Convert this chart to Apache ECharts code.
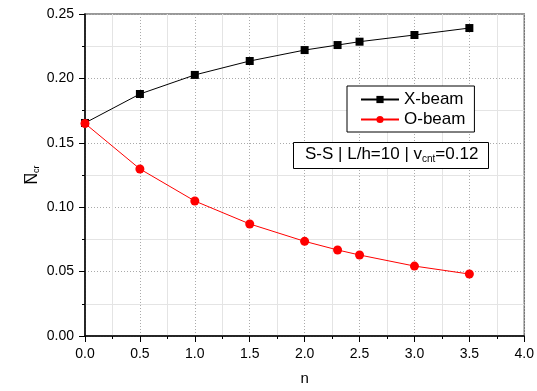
<!DOCTYPE html>
<html>
<head>
<meta charset="utf-8">
<script src="https://cdn.jsdelivr.net/npm/echarts@6/dist/echarts.min.js"></script>
<style>
  html, body { margin: 0; padding: 0; background: #fff; }
  #chart { width: 537px; height: 391px; }
</style>
</head>
<body>
<div id="chart"></div>
<script>
const nValues = [0, 0.5, 1.0, 1.5, 2.0, 2.3, 2.5, 3.0, 3.5];
const xBeam = [0.1654, 0.1879, 0.2027, 0.2135, 0.2220, 0.2259, 0.2285, 0.2337, 0.2391];
const oBeam = [0.1650, 0.1297, 0.1048, 0.0870, 0.0735, 0.0668, 0.0629, 0.0543, 0.0481];

const font = "Liberation Sans, Arial, sans-serif";
let myChart = echarts.init(document.getElementById("chart"));

const pairs = (ys) => nValues.map((x, i) => [x, ys[i]]);

myChart.setOption({
  animation: false,
  textStyle: { fontFamily: font },
  grid: {
    left: 85,
    right: 12,
    top: 14,
    bottom: 55,
    show: true,
    borderColor: "#777",
    borderWidth: 1.5,
  },
  legend: {
    orient: "vertical",
    left: 347,
    top: 86,
    itemWidth: 38,
    itemHeight: 9,
    itemGap: 3,
    padding: [5, 9, 4, 13],
    borderColor: "#000",
    borderWidth: 1,
    backgroundColor: "#fff",
    textStyle: { fontSize: 17, color: "#000", fontFamily: font },
    data: ["X-beam", "O-beam"],
  },
  xAxis: {
    type: "value",
    min: 0,
    max: 4,
    interval: 0.5,
    name: "n",
    nameLocation: "middle",
    nameGap: 35,
    nameTextStyle: { fontSize: 15, color: "#000" },
    axisLine: { onZero: false, lineStyle: { color: "#000", width: 1.5 } },
    axisTick: { inside: false, length: 6, lineStyle: { color: "#000" } },
    minorTick: { show: true, splitNumber: 2, length: 3, lineStyle: { color: "#000" } },
    axisLabel: {
      fontSize: 14,
      color: "#000",
      margin: 11,
      formatter: (v) => v.toFixed(1),
    },
    splitLine: { show: true, lineStyle: { color: "#aaa", type: [1, 2] } },
    minorSplitLine: { show: true, lineStyle: { color: "#e4e4e4" } },
  },
  yAxis: {
    type: "value",
    min: 0,
    max: 0.25,
    interval: 0.05,
    name: "{n|N\u0305}{s|cr}",
    nameLocation: "middle",
    nameGap: 44,
    nameMoveOverlap: false,
    nameRotate: 90,
    nameTextStyle: {
      rich: {
        n: { fontSize: 16, color: "#000", fontFamily: font },
        s: { fontSize: 9, color: "#000", fontFamily: font, verticalAlign: "bottom", padding: [6, 0, 0, 0] },
      },
    },
    axisLine: { onZero: false, lineStyle: { color: "#000", width: 1.5 } },
    axisTick: { inside: false, length: 6, lineStyle: { color: "#000" } },
    minorTick: { show: true, splitNumber: 2, length: 3, lineStyle: { color: "#000" } },
    axisLabel: {
      fontSize: 14,
      color: "#000",
      margin: 11,
      formatter: (v) => v.toFixed(2),
    },
    splitLine: { show: true, lineStyle: { color: "#aaa", type: [1, 2] } },
    minorSplitLine: { show: true, lineStyle: { color: "#e4e4e4" } },
  },
  graphic: [
    {
      type: "rect",
      left: 293,
      top: 142,
      shape: { width: 195, height: 26 },
      style: { fill: "#fff", stroke: "#000", lineWidth: 1 },
      z: 100,
    },
    {
      type: "text",
      left: 305,
      top: 146,
      z: 101,
      style: {
        text: "{t|S-S | L/h=10 | v}{s|cnt}{t|=0.12}",
        rich: {
          t: { fontSize: 17, fill: "#000", fontFamily: font },
          s: { fontSize: 10, fill: "#000", fontFamily: font, padding: [10, 0, 0, 0] },
        },
      },
    },
  ],
  series: [
    {
      name: "X-beam",
      type: "line",
      data: pairs(xBeam),
      symbol: "rect",
      symbolSize: 8,
      color: "#000",
      lineStyle: { color: "#000", width: 1 },
      itemStyle: { color: "#000" },
      z: 3,
    },
    {
      name: "O-beam",
      type: "line",
      data: pairs(oBeam),
      symbol: "circle",
      symbolSize: 9,
      color: "#ff0000",
      lineStyle: { color: "#ff0000", width: 1 },
      itemStyle: { color: "#ff0000" },
      z: 4,
    },
  ],
});
</script>
</body>
</html>
